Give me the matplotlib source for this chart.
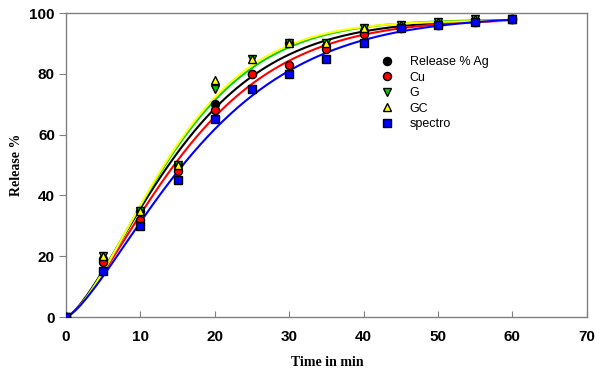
import numpy as np
import matplotlib
matplotlib.use("Agg")
import matplotlib.pyplot as plt

# release data
time_min = [0, 5, 10, 15, 20, 25, 30, 35, 40, 45, 50, 55, 60]
rel_ag = [0, 19, 35, 50, 70, 80, 90, 89, 94, 95, 96, 97, 98]
rel_cu = [0, 18, 32, 48, 68, 80, 83, 88, 93, 95, 96, 97, 98]
rel_g = [0, 20, 35, 50, 75, 85, 90, 90, 95, 96, 97, 98, 98]
rel_gc = [0, 20, 35, 50, 78, 85, 90, 90, 95, 96, 97, 98, 98]
rel_spectro = [0, 15, 30, 45, 65, 75, 80, 85, 90, 95, 96, 97, 98]

labels = ["Release % Ag", "Cu", "G", "GC", "spectro"]


def weibull_fit(t, y):
    # grid search on scale/shape, linear least squares for plateau
    t = np.asarray(t, float)
    y = np.asarray(y, float)
    best = None
    for a in np.linspace(8, 30, 221):
        for b in np.linspace(0.8, 2.5, 171):
            f = 1 - np.exp(-(t / a) ** b)
            ymax = (f @ y) / (f @ f)
            err = np.sum((ymax * f - y) ** 2)
            if best is None or err < best[0]:
                best = (err, a, b, ymax)
    _, a, b, ymax = best
    return lambda tt: ymax * (1 - np.exp(-(tt / a) ** b))


series = [
    (rel_ag, "black", "o", "black"),
    (rel_cu, "red", "o", "red"),
    (rel_g, "#00cc00", "v", "#00cc00"),
    (rel_gc, "yellow", "^", "yellow"),
    (rel_spectro, "blue", "s", "blue"),
]

fig = plt.figure(figsize=(6, 3.77), dpi=100)
ax = fig.add_axes([0.11, 0.159, 0.868, 0.8065])

tt = np.linspace(0, 60, 300)
for vals, lc, mk, fc in series:
    fit = weibull_fit(time_min, vals)
    ax.plot(tt, fit(tt), color=lc, lw=1.5, zorder=2)

handles = []
for (vals, lc, mk, fc), lab in zip(series, labels):
    h, = ax.plot(time_min, vals, ls="none", marker=mk, ms=5.8 if mk != "s" else 5.3,
                 mfc=fc, mec="black", mew=1.0, zorder=3, label=lab)
    handles.append(h)

ax.set_xlim(0, 70)
ax.set_ylim(0, 100)
ax.set_xticks(range(0, 71, 10))
ax.set_yticks(range(0, 101, 20))

for s in ax.spines.values():
    s.set_color("#808080")
    s.set_linewidth(1.0)

ax.tick_params(axis="x", direction="in", length=4, color="#808080", pad=9)
ax.tick_params(axis="y", direction="out", length=5, color="#808080", pad=3)
for lab in ax.get_xticklabels() + ax.get_yticklabels():
    lab.set_family("Liberation Sans")
    lab.set_fontweight("bold")
    lab.set_fontsize(11)

fig.text(327 / 600, 1 - 362 / 377, "Time in min", family="Liberation Serif",
         fontweight="bold", fontsize=10, ha="center", va="center")
fig.text(16 / 600, 1 - 165 / 377, "Release %", family="Liberation Serif",
         fontweight="bold", fontsize=10, ha="center", va="center", rotation=90)

ax.legend(handles=handles, loc="upper left", bbox_to_anchor=(0.595, 0.875), frameon=False,
          prop={"family": "Liberation Sans", "size": 9}, handlelength=1.0,
          handletextpad=1.3, labelspacing=0.28, borderaxespad=0)

fig.savefig("out.png", dpi=100)
